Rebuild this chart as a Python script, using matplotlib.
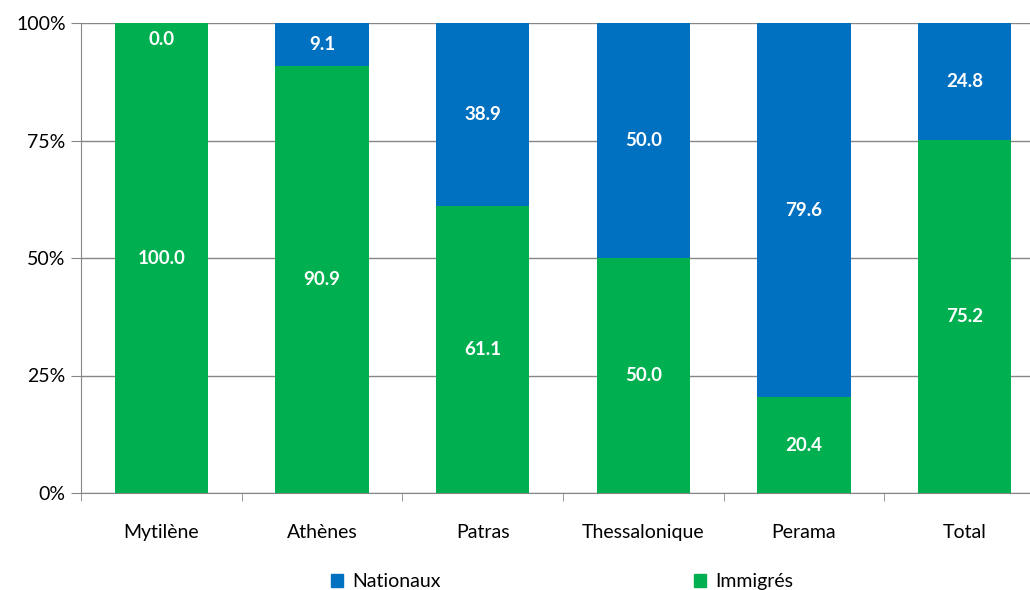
import matplotlib.pyplot as plt
import matplotlib.patches as mpatches
import numpy as np

categories = ['Mytilène', 'Athènes', 'Patras', 'Thessalonique', 'Perama', 'Total']
immigres = [100.0, 90.9, 61.1, 50.0, 20.4, 75.2]
nationaux = [0.0, 9.1, 38.9, 50.0, 79.6, 24.8]

blue = '#0070C0'
green = '#00B050'
plt.rcParams['font.family'] = ['Lato', 'DejaVu Sans']

fig = plt.figure(figsize=(10.3, 5.9), dpi=100)
ax = fig.add_axes([81 / 1030, 97 / 590, 964 / 1030, 470 / 590])

x = np.arange(len(categories))
ax.bar(x, immigres, width=0.58, color=green, zorder=3)
ax.bar(x, nationaux, width=0.58, bottom=immigres, color=blue, zorder=3)

for i in range(len(categories)):
    ax.text(x[i], immigres[i] / 2, f'{immigres[i]:.1f}', ha='center', va='center',
            color='white', fontsize=13.5, fontweight='bold', zorder=4)
    if nationaux[i] > 0:
        ypos = immigres[i] + nationaux[i] / 2
    else:
        ypos = 96.4
    ax.text(x[i], ypos, f'{nationaux[i]:.1f}', ha='center', va='center',
            color='white', fontsize=13.5, fontweight='bold', zorder=4)

ax.set_xlim(-0.5, len(categories) - 0.5)
ax.set_ylim(0, 100)
ax.set_yticks([0, 25, 50, 75, 100])
ax.set_yticklabels(['0%', '25%', '50%', '75%', '100%'], fontsize=14)
ax.yaxis.grid(True, color='#868686', linewidth=1, zorder=0)
ax.set_xticks(x)
ax.set_xticklabels(categories, fontsize=14)
ax.set_xticks(np.arange(len(categories) + 1) - 0.5, minor=True)
ax.tick_params(axis='x', which='major', length=0, pad=22)
ax.tick_params(axis='x', which='minor', length=6, color='#868686', direction='out')
ax.tick_params(axis='y', length=7, color='#868686', direction='out', pad=4)

for s in ['top', 'right']:
    ax.spines[s].set_visible(False)
ax.spines['left'].set_color('#868686')
ax.spines['bottom'].set_color('#868686')

h1 = mpatches.Patch(color=blue, label='Nationaux')
h2 = mpatches.Patch(color=green, label='Immigrés')
fig.legend(handles=[h1, h2], ncol=2, frameon=False, fontsize=14,
           loc='center', bbox_to_anchor=(0.546, 0.014), columnspacing=13,
           handlelength=0.6, handleheight=0.6, handletextpad=0.5)

fig.savefig('out.png', dpi=100)
